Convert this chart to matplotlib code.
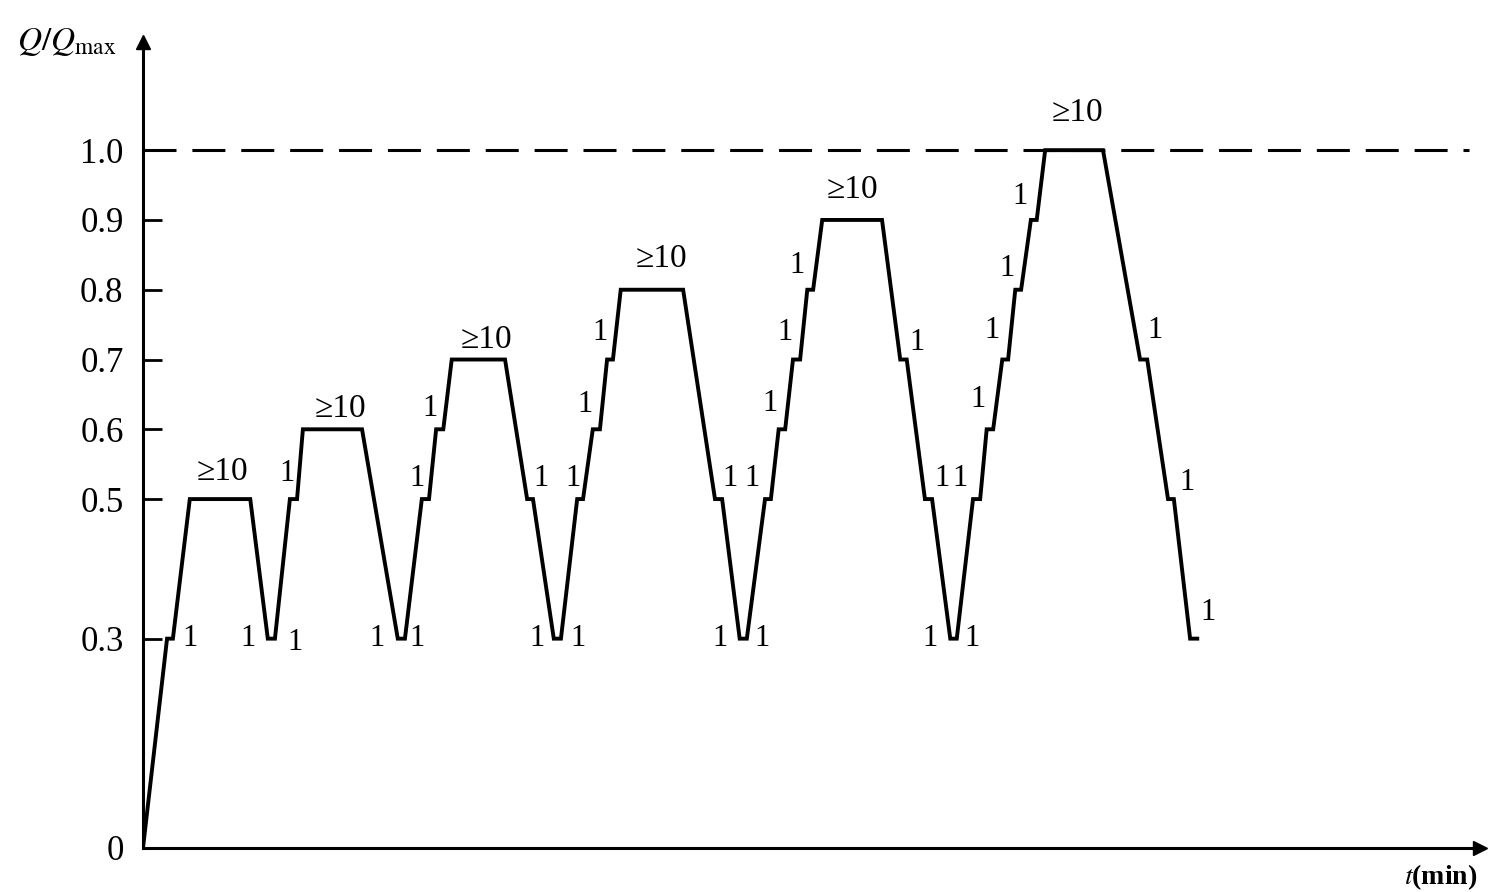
import numpy as np
import matplotlib
matplotlib.use("Agg")
from matplotlib import pyplot as plt

plt.rcParams['font.family'] = ['Liberation Serif', 'DejaVu Serif']
plt.rcParams['mathtext.fontset'] = 'stix'

# load curve: time (min) vs Q/Qmax
t_pts = [0, 3.7, 4.6, 7.2, 16.5, 19.2, 20.3, 22.6, 23.7, 24.6, 33.7,
         39.2, 40.3, 42.9, 44.0, 45.1, 46.2, 47.5, 55.7,
         59.1, 60.0, 63.2, 64.3, 66.8, 67.7, 69.2, 70.3, 71.4, 72.3, 73.5, 83.1,
         88.0, 89.1, 91.8, 92.9, 95.7, 96.6, 97.8, 98.8, 100.0, 101.1, 102.2, 103.1, 104.5, 113.7,
         116.5, 117.5, 120.3, 121.4, 124.2, 125.2, 127.7, 128.8, 129.8, 130.8, 132.2, 133.1,
         134.2, 135.1, 136.6, 137.5, 138.8, 147.7,
         153.4, 154.5, 157.7, 158.6, 161.1, 162.2]
q_pts = [0, 0.3, 0.3, 0.5, 0.5, 0.3, 0.3, 0.5, 0.5, 0.6, 0.6,
         0.3, 0.3, 0.5, 0.5, 0.6, 0.6, 0.7, 0.7,
         0.5, 0.5, 0.3, 0.3, 0.5, 0.5, 0.6, 0.6, 0.7, 0.7, 0.8, 0.8,
         0.5, 0.5, 0.3, 0.3, 0.5, 0.5, 0.6, 0.6, 0.7, 0.7, 0.8, 0.8, 0.9, 0.9,
         0.7, 0.7, 0.5, 0.5, 0.3, 0.3, 0.5, 0.5, 0.6, 0.6, 0.7, 0.7,
         0.8, 0.8, 0.9, 0.9, 1.0, 1.0,
         0.7, 0.7, 0.5, 0.5, 0.3, 0.3]

# "1" min hold labels
one_t = [7.2, 16.2, 23.4, 22.2, 36.0, 42.2, 42.2, 44.2,
         60.6, 66.9, 61.2, 66.2, 68.0, 70.3,
         88.8, 95.2, 90.3, 93.7, 96.5, 98.8, 100.6,
         119.1, 121.1, 127.5, 122.9, 125.7, 128.5, 130.6, 132.9, 134.9,
         155.7, 160.6, 163.8]
one_q = [0.30, 0.30, 0.295, 0.537, 0.30, 0.30, 0.53, 0.63,
         0.30, 0.30, 0.53, 0.53, 0.635, 0.738,
         0.30, 0.30, 0.53, 0.53, 0.637, 0.738, 0.835,
         0.725, 0.30, 0.30, 0.53, 0.53, 0.642, 0.742, 0.831, 0.933,
         0.742, 0.524, 0.338]

# ">=10" plateau labels
ten_t = [12.2, 30.3, 52.9, 79.8, 109.1, 143.7]
ten_q = [0.539, 0.63, 0.728, 0.845, 0.943, 1.053]

yticks = [0, 0.3, 0.5, 0.6, 0.7, 0.8, 0.9, 1.0]
ytick_labels = ['0', '0.3', '0.5', '0.6', '0.7', '0.8', '0.9', '1.0']

fig = plt.figure(figsize=(14.96, 8.92), dpi=100)
ax = fig.add_axes([143/1496, 44/892, 1337/1496, 806/892])
ax.set_xlim(0, 205.7)
ax.set_ylim(0, 1.155)

ax.plot(t_pts, q_pts, color='black', lw=2.8, solid_joinstyle='miter')
ax.plot([0, 204], [1.0, 1.0], color='black', lw=2.2, dashes=(10.8, 5.2))

for x, y in zip(one_t, one_q):
    ax.text(x, y, '1', fontsize=22, ha='center', va='center')
for x, y in zip(ten_t, ten_q):
    ax.text(x, y, '\u2265' + '10', fontsize=24, ha='center', va='center')

for s in ['top', 'right']:
    ax.spines[s].set_visible(False)
ax.spines['left'].set_linewidth(2.2)
ax.spines['bottom'].set_linewidth(2.2)
ax.plot(1, 0, '>', color='black', ms=10, transform=ax.transAxes, clip_on=False)
ax.plot(0, 1, '^', color='black', ms=10, transform=ax.transAxes, clip_on=False)

ax.set_xticks([])
ax.set_yticks(yticks)
ax.set_yticklabels(ytick_labels)
ax.tick_params(axis='y', direction='in', length=14, width=2, pad=14, labelsize=25)

ax.text(-0.02, 1.0, '$Q/Q_{\\mathrm{max}}$', transform=ax.transAxes,
        fontsize=24, ha='right', va='center')
ax.text(0.998, -0.036, '$t$(min)', transform=ax.transAxes,
        fontsize=20, ha='right', va='center', fontweight='bold')

fig.savefig('out.png', dpi=100, facecolor='white')
